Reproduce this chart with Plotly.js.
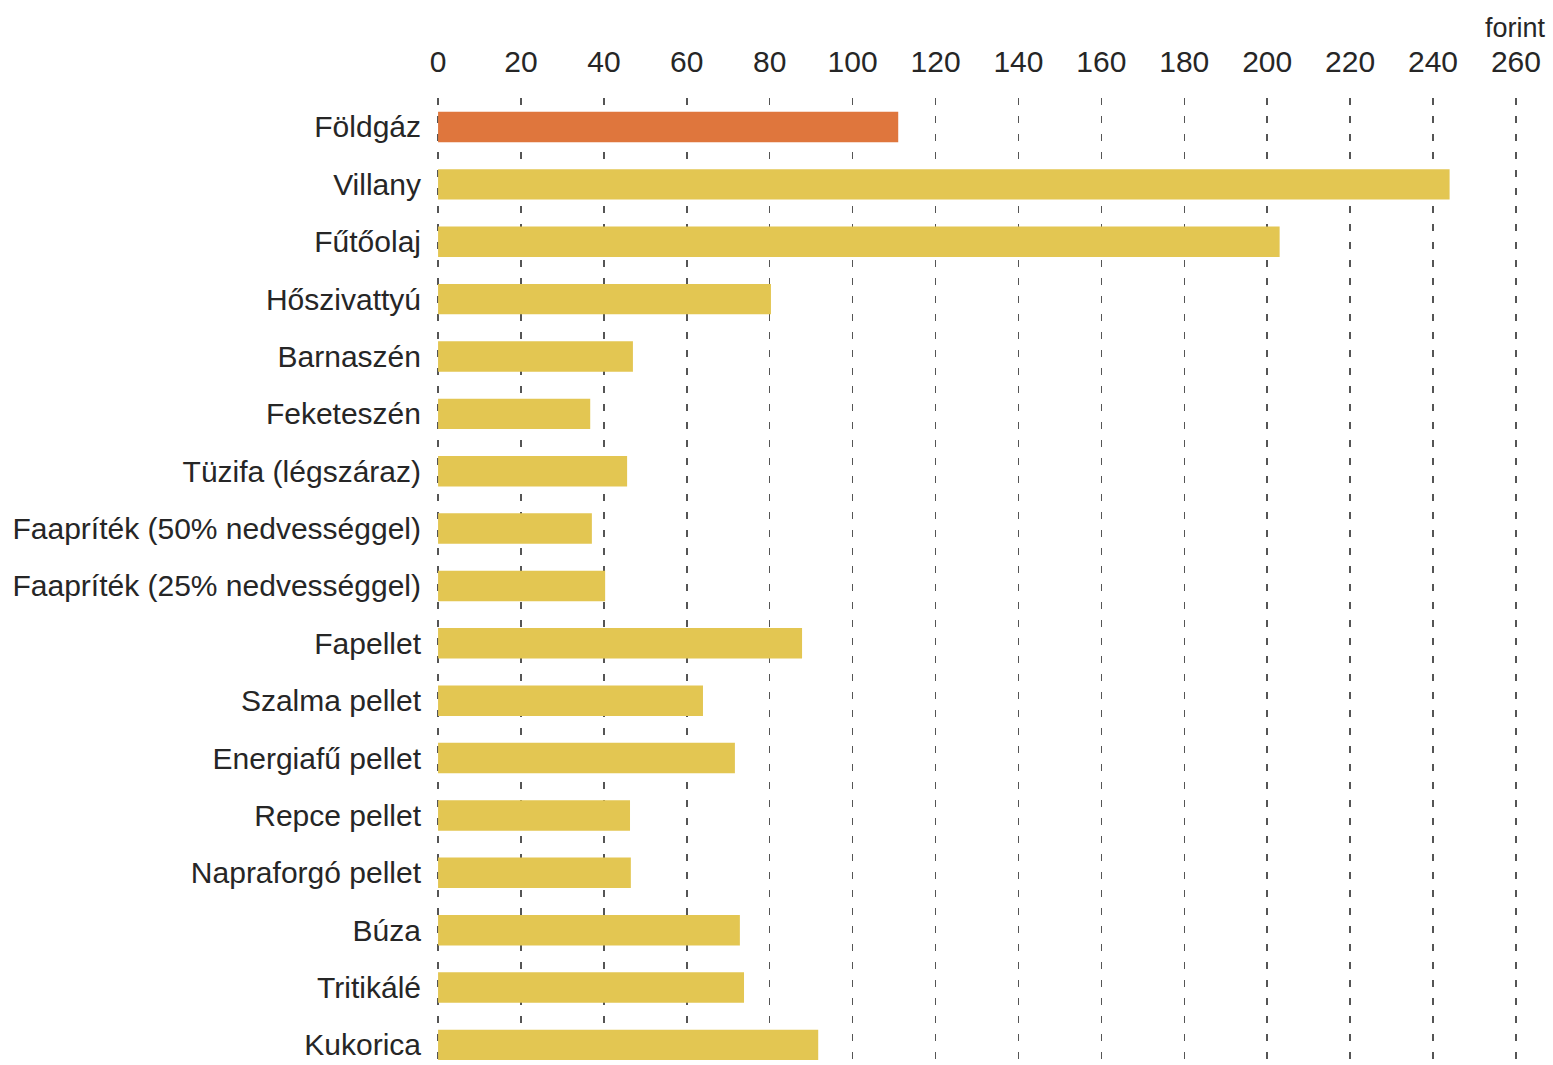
<!DOCTYPE html>
<html><head><meta charset="utf-8">
<script src="https://cdn.plot.ly/plotly-3.0.1.min.js"></script>
<style>html,body{margin:0;padding:0;background:#fff;}#chart{width:1553px;height:1065px;}</style>
</head><body><div id="chart"></div>
<script>
const categories = ["Földgáz","Villany","Fűtőolaj","Hőszivattyú","Barnaszén","Feketeszén","Tüzifa (légszáraz)","Faapríték (50% nedvességgel)","Faapríték (25% nedvességgel)","Fapellet","Szalma pellet","Energiafű pellet","Repce pellet","Napraforgó pellet","Búza","Tritikálé","Kukorica"];
const values = [111, 244, 203, 80.3, 47, 36.7, 45.6, 37.1, 40.3, 87.8, 63.9, 71.6, 46.3, 46.5, 72.8, 73.8, 91.7];
const highlight = "Földgáz";
const tickVals = [0,20,40,60,80,100,120,140,160,180,200,220,240,260];
const unitLabel = "forint";

const colors = categories.map(c => c === highlight ? "#DF763D" : "#E3C652");

const trace = {
  type: "bar", orientation: "h",
  x: values, y: categories,
  marker: {color: colors},
  width: 0.53,
  hoverinfo: "x+y"
};
const font = {family: "Liberation Sans, Arial, sans-serif", size: 30, color: "#262626"};
const layout = {
  width: 1553, height: 1065,
  margin: {l: 436, r: 35, t: 98, b: 0},
  paper_bgcolor: "#fff", plot_bgcolor: "#fff",
  font: font,
  showlegend: false,
  xaxis: {
    side: "top", range: [-0.5, 260.5], tickvals: tickVals,
    ticks: "outside", ticklen: 13, tickcolor: "rgba(0,0,0,0)",
    showgrid: true, gridcolor: "#555", gridwidth: 1.5, griddash: "7px,11px",
    zeroline: false, showline: false,
    tickfont: font
  },
  yaxis: {
    type: "category", categoryorder: "array", categoryarray: categories,
    range: [16.35, -0.505],
    ticks: "outside", ticklen: 8, tickcolor: "rgba(0,0,0,0)",
    showgrid: false, zeroline: false, showline: false,
    tickfont: font
  },
  annotations: [{
    text: unitLabel, xref: "x", yref: "paper", x: 260, y: 1, xanchor: "center", yanchor: "bottom",
    yshift: 53, showarrow: false, font: Object.assign({}, font, {size: 27})
  }]
};
Plotly.newPlot("chart", [trace], layout, {displayModeBar: false, staticPlot: true});
</script></body></html>
